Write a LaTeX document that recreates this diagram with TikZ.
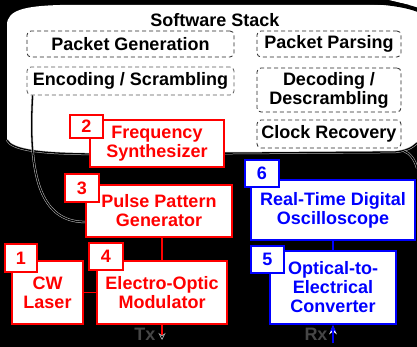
\documentclass[tikz,border=0pt]{standalone}
\usepackage{fontspec}
\setmainfont{Liberation Sans}
\usetikzlibrary{arrows.meta,calc}
\definecolor{myred}{RGB}{255,0,0}
\definecolor{myblue}{RGB}{0,0,255}
\begin{document}
\begin{tikzpicture}[x=1pt,y=-1pt,
  font=\fontsize{18}{19}\selectfont\bfseries,
  sw/.style={draw=black!85, dash pattern=on 4pt off 3pt, rounded corners=4pt, line width=0.8pt, inner sep=0pt, align=center},
  rbox/.style={draw=myred, fill=white, line width=1.6pt, text=myred, align=center, inner sep=0pt},
  bbox/.style={draw=myblue, fill=white, line width=1.6pt, text=myblue, align=center, inner sep=0pt},
  rline/.style={draw=myred, line width=1.6pt},
  bline/.style={draw=myblue, line width=1.6pt},
  halo/.style={draw=gray!45, double=black, double distance=1.3pt, line width=0.5pt},
  lbl/.style={text=gray!55!black, inner sep=0pt}
]
\useasboundingbox (0,0) rectangle (417,347);
\fill[black] (0,0) rectangle (417,347);
% software stack shape
\fill[white] (7,140) -- (7,25) .. controls (7,10) and (25,6) .. (60,5) -- (417,5) -- (417,143)
  .. controls (412,148) and (405,151) .. (395,152) -- (100,154) .. controls (40,154) and (12,150) .. (7,140) -- cycle;
\fill[white] (385,-1) -- (418,-1) -- (418,7) -- cycle;
\draw[black, line width=4pt] (355,1.5) .. controls (385,2) and (405,5) .. (418,10);
\coordinate (j) at (404,151);
\coordinate (rc1) at (417,143);
\coordinate (rc2) at (417,168);
\draw[halo] (7,140) .. controls (12,150) and (40,154) .. (100,154) -- (395,152) .. controls (405,151) and (412,148) .. (rc1);
\draw[halo] (j) .. controls (410,153) and (415,160) .. (rc2);

\node[inner sep=0pt] (ss) at (215,20) {Software Stack};
\node[sw, minimum width=207pt, minimum height=26pt] (pg) at (130.5,44) {Packet Generation};
\node[sw, draw=gray!70!black, minimum width=207pt, minimum height=28pt] (enc) at (130.5,81) {Encoding / Scrambling};
\node[sw, minimum width=144pt, minimum height=26pt] (pp) at (329,44) {Packet Parsing};
\node[sw, minimum width=144pt, minimum height=44pt] (dec) at (329,90) {Decoding /\\Descrambling};
\node[sw, minimum width=144pt, minimum height=28pt] (cr) at (329,134) {Clock Recovery};

% transmitter
\node[rbox, minimum width=134pt, minimum height=47pt] (fs) at (157,143.5) {Frequency\\Synthesizer};
\node[rbox, minimum width=33pt, minimum height=23pt] (n2) at (86.5,126.5) {2};
\node[rbox, minimum width=146pt, minimum height=52pt] (ppg) at (159,211) {Pulse Pattern\\Generator};
\node[rbox, minimum width=34pt, minimum height=28pt] (n3) at (82,188) {3};
\node[rbox, minimum width=71pt, minimum height=63pt] (cw) at (47.5,292.5) {CW\\Laser};
\node[rbox, minimum width=32pt, minimum height=28pt] (n1) at (21,258) {1};
\node[rbox, minimum width=130pt, minimum height=63pt] (eom) at (162,292.5) {Electro-Optic\\Modulator};
\node[rbox, minimum width=34pt, minimum height=27pt] (n4) at (106,256.5) {4};

% receiver
\node[bbox, minimum width=164pt, minimum height=60pt] (osc) at (333,210) {Real-Time Digital\\Oscilloscope};
\node[bbox, minimum width=34pt, minimum height=27pt] (n6) at (262,173.5) {6};
\node[bbox, minimum width=126pt, minimum height=73pt] (oe) at (333,287.5) {Optical-to-\\Electrical\\Converter};
\node[bbox, minimum width=33pt, minimum height=27pt] (n5) at (267.5,259.5) {5};

% connectors
\draw[halo] ($(enc.south west)+(6,0)$) .. controls (28,175) and (40,222) .. ($(ppg.west)+(0,11)$);
\draw[rline] ($(fs.south)+(5,0)$) -- ($(fs.south)+(5,0)$ |- ppg.north);
\draw[rline] (eom.north |- ppg.south) -- (eom.north);
\draw[rline] (cw.east) -- (eom.west);
\draw[bline] (osc.south) -- (oe.north);

\coordinate (txend) at (162,340);
\coordinate (rxin) at (333,343);
\draw[rline, -{Stealth[length=7pt,width=7pt,color=gray!60,fill=black,line width=0.6pt]}] (eom.south) -- (txend);
\draw[white, line width=2.4pt, -{Stealth[length=8.5pt,width=7.5pt]}] (rxin) -- ($(oe.south)+(0,1)$);
\draw[bline, -{Stealth[length=7pt,width=6pt]}] (rxin) -- (oe.south);
\node[lbl] (tx) at (145,334) {Tx};
\node[lbl] (rx) at (316,334) {Rx};
\end{tikzpicture}
\end{document}
